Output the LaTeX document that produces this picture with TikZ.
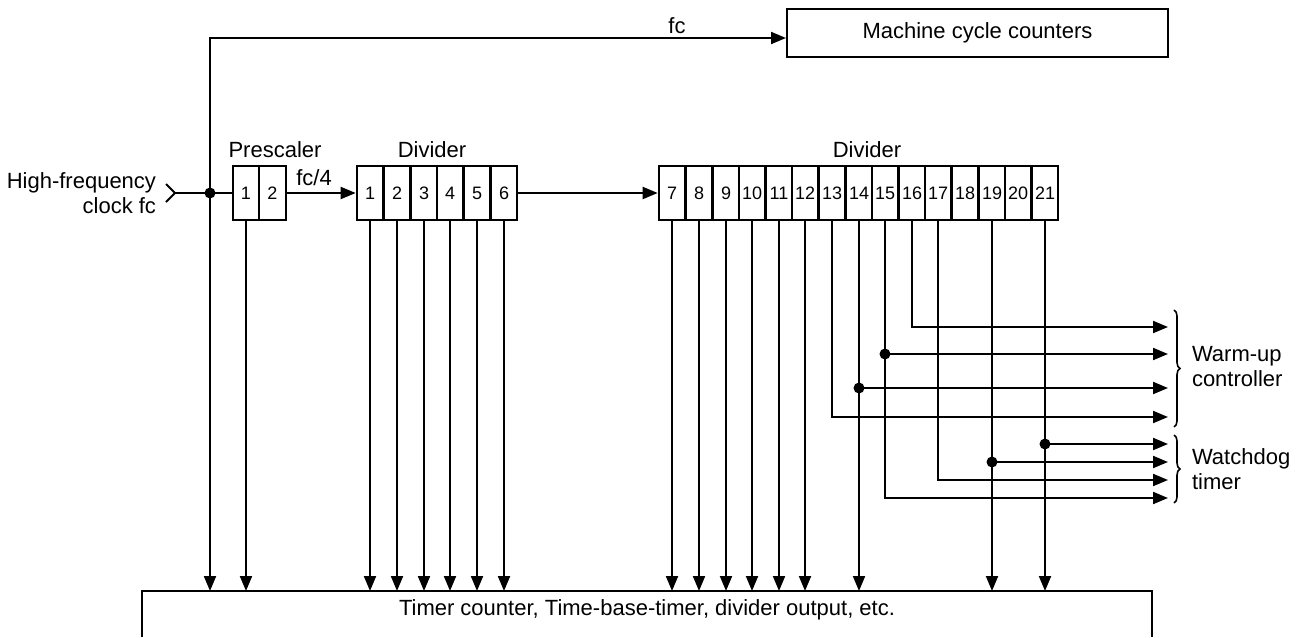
\documentclass[tikz,border=0pt]{standalone}
\usepackage{fontspec}
\setmainfont{Liberation Sans}
\usetikzlibrary{arrows.meta,decorations.pathreplacing}
\begin{document}
\begin{tikzpicture}[x=1pt,y=-1pt,
  line width=2pt,
  cell/.style={draw, minimum width=26.6pt, minimum height=54pt, inner sep=0pt, font=\fontsize{18}{21}\selectfont},
  lbl/.style={font=\fontsize{22}{25}\selectfont, inner sep=0pt},
  arr/.style={-{Triangle[length=15pt,width=12pt]}},
  dotc/.style={circle, fill, inner sep=0pt, minimum size=11pt},
  brc/.style={line width=1.6pt, decorate, decoration={brace, amplitude=6pt}},
]
\useasboundingbox (0,0) rectangle (1303,637);

% boxes
\node[lbl, draw, minimum width=381pt, minimum height=48pt] (mc) at (977.5,33) {Machine cycle counters};
\node[lbl, minimum width=1008pt, minimum height=36pt] (tb) at (647,610) {Timer counter, Time-base-timer, divider output, etc.};
\draw (tb.north west) ++(0,46) -- (tb.north west) -- (tb.north east) -- ++(0,46);

% cells
\node[cell, minimum width=26.5pt] (p1) at (246,193) {1};
\node[cell, minimum width=26.5pt] (p2) at (272.5,193) {2};
\foreach \k in {1,...,6} {
  \pgfmathtruncatemacro{\cx}{357+(\k-0.5)*26.67+0.5}
  \node[cell, minimum width=26.67pt] (d\k) at (\cx,193) {\k};
}
\foreach \k in {7,...,21} {
  \pgfmathtruncatemacro{\cx}{659+(\k-6.5)*26.6+0.5}
  \node[cell] (d\k) at (\cx,193) {\k};
}

% labels
\node[lbl] (psl) at (275,150) {Prescaler};
\node[lbl] (dv1) at (432,150) {Divider};
\node[lbl] (dv2) at (867,150) {Divider};
\node[lbl] (fcl) at (677,26) {fc};
\node[lbl] (fc4) at (314,178) {fc/4};
\node[lbl, align=right, anchor=east] (hf) at (157,193) {High-frequency\\clock fc};
\node[lbl, align=left, anchor=west] (wul) at (1191,367) {Warm-up\\controller};
\node[lbl, align=left, anchor=west] (wdl) at (1191,469) {Watchdog\\timer};

% input
\coordinate (in) at (175,193);
\draw (166,184) -- (in) -- (166,202);
\node[dotc] (j0) at (210,193) {};
\draw (in) -- (p1.west);
\coordinate (tl) at (210,38);
\draw[arr] (j0.center) -- (tl) -- (tl -| mc.west);
\draw[arr] (j0.center) -- (j0 |- tb.north);
\draw[arr] (p2.east) -- (d1.west);
\draw[arr] (d6.east) -- (d7.west);

% down arrows
\foreach \n in {p1,d1,d2,d3,d4,d5,d6,d7,d8,d9,d10,d11,d12,d14,d19,d21}
  \draw[arr] (\n.south) -- (\n.south |- tb.north);

% right targets
\coordinate (wu1) at (1168,327);
\coordinate (wu2) at (1168,354);
\coordinate (wu3) at (1168,388);
\coordinate (wu4) at (1168,417);
\coordinate (wd1) at (1168,444);
\coordinate (wd2) at (1168,462);
\coordinate (wd3) at (1168,480);
\coordinate (wd4) at (1168,498);

\draw[arr] (d16.south) |- (wu1);
\draw[arr] (d15.south) |- (wd4);
\draw[arr] (d13.south) |- (wu4);
\draw[arr] (d17.south) |- (wd3);
\node[dotc] (k15) at (d15 |- wu2) {};
\node[dotc] (k14) at (d14 |- wu3) {};
\node[dotc] (k21) at (d21 |- wd1) {};
\node[dotc] (k19) at (d19 |- wd2) {};
\draw[arr] (k15.center) -- (wu2);
\draw[arr] (k14.center) -- (wu3);
\draw[arr] (k21.center) -- (wd1);
\draw[arr] (k19.center) -- (wd2);

% braces
\draw[brc] (1174,310) -- (1174,427);
\draw[brc] (1174,435) -- (1174,503);
\end{tikzpicture}
\end{document}
